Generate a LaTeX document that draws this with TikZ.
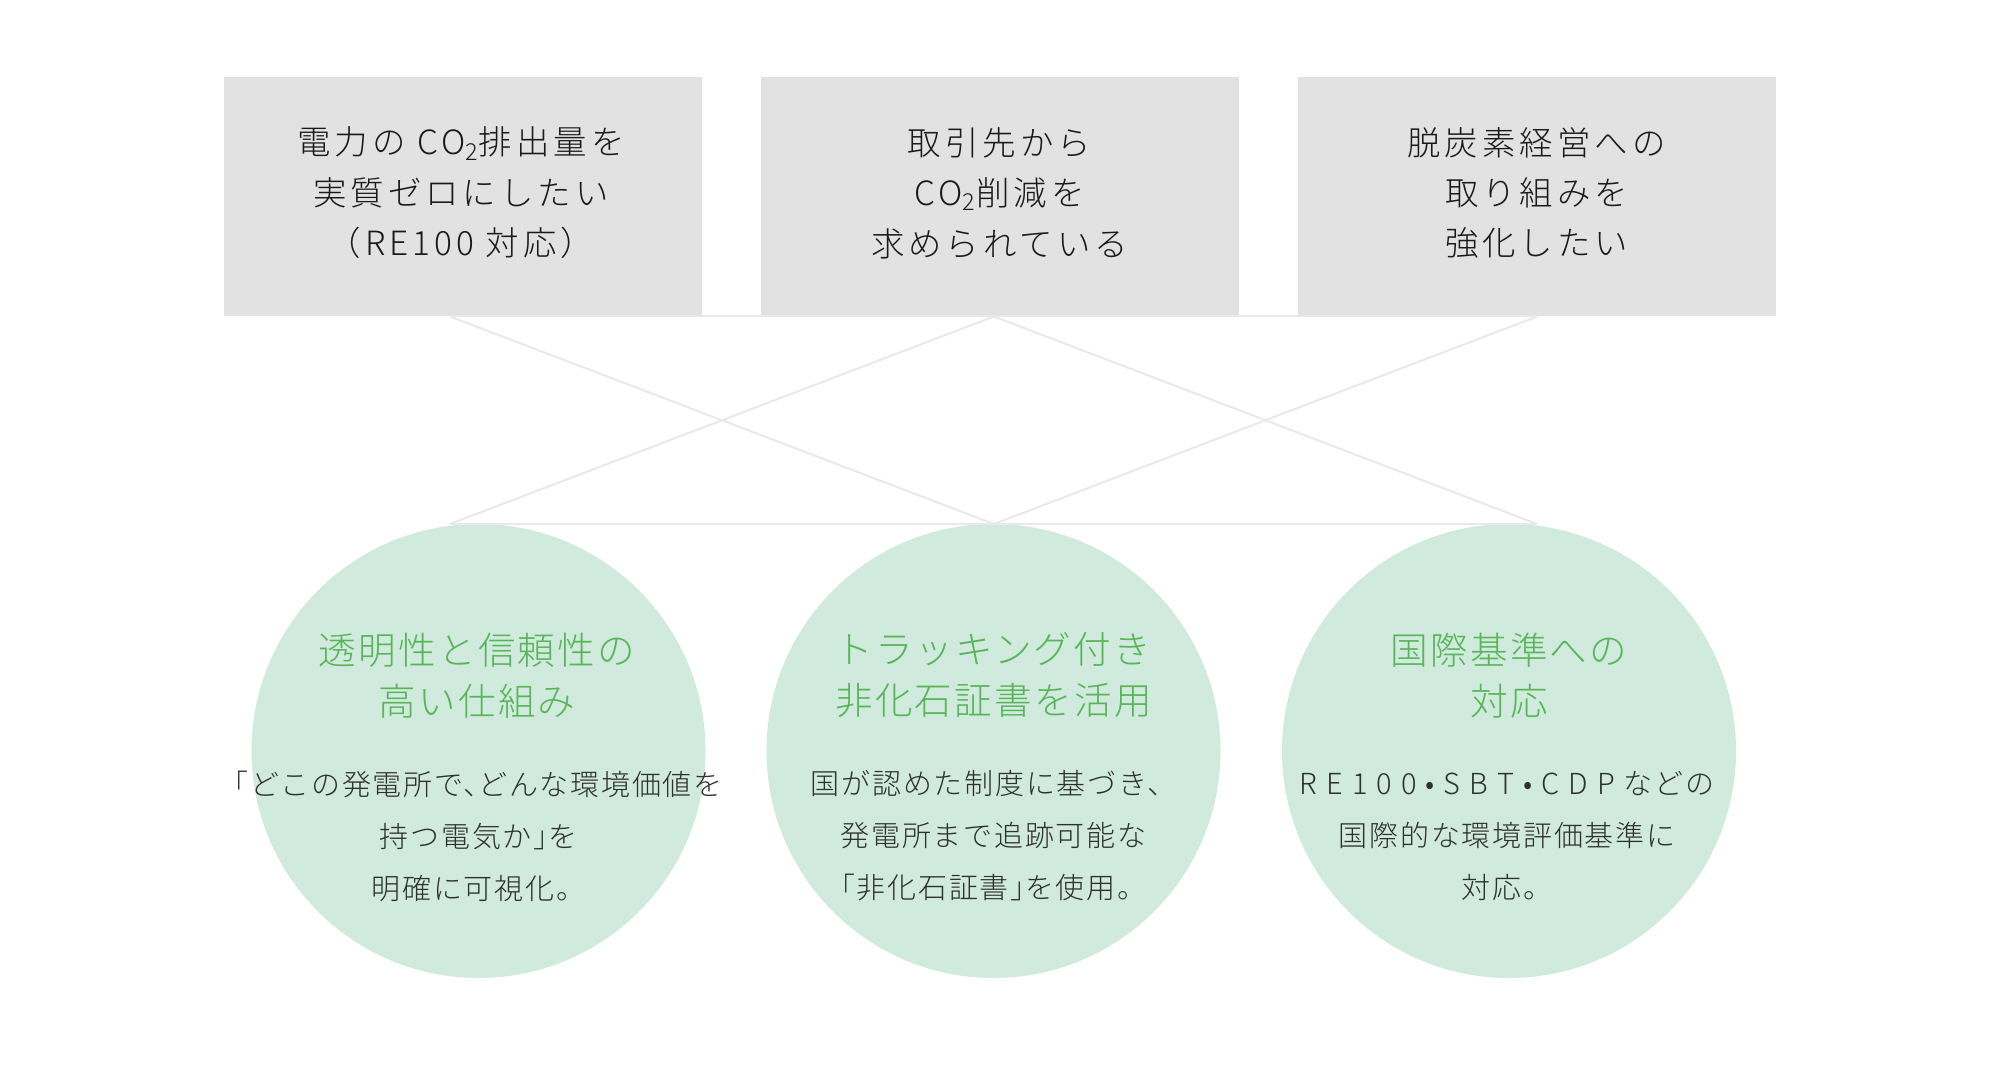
\documentclass[tikz,border=0pt]{standalone}
\usepackage{fontspec}
\setmainfont{Noto Sans CJK JP}
\newfontfamily\jpbox[LetterSpace=12]{Noto Sans CJK JP Light}
\newfontfamily\jptitle[LetterSpace=6]{Noto Sans CJK JP Light}
\newfontfamily\jpbody[LetterSpace=6]{Noto Sans CJK JP Light}
\definecolor{boxgray}{HTML}{E2E2E2}
\definecolor{circgreen}{HTML}{D0EBDD}
\definecolor{titlegreen}{HTML}{58B558}
\definecolor{linegray}{HTML}{E9E9E9}
\definecolor{boxtext}{HTML}{1A1A1A}
\definecolor{bodytext}{HTML}{303030}
\newcommand\lsp{\hspace{4.5pt}}
\newcommand\hkl{\hspace{-0.5em}}
\tikzset{
  needbox/.style={rectangle, fill=boxgray, draw=none, minimum width=239pt, minimum height=119.5pt, inner sep=0pt},
  needtext/.style={align=center, text=boxtext, font=\jpbox\fontsize{16.7}{25.2}\selectfont, inner sep=0pt},
  solcirc/.style={circle, fill=circgreen, draw=none, minimum size=227pt, inner sep=0pt},
  soltitle/.style={align=center, text=titlegreen, font=\jptitle\fontsize{18.8}{25.5}\selectfont, inner sep=0pt},
  solbody/.style={align=center, text=bodytext, font=\jpbody\fontsize{14.5}{26}\selectfont, inner sep=0pt},
  link/.style={draw=linegray, line width=1pt}
}
\begin{document}
\begin{tikzpicture}[x=0.5pt,y=-0.5pt]
\useasboundingbox[fill=white] (0,0) rectangle (2000,1079);
% top boxes
\node[needbox] (b1) at (463,196.5) {};
\node[needbox] (b2) at (999.5,196.5) {};
\node[needbox] (b3) at (1536.5,196.5) {};
% circles
\node[solcirc] (c1) at (478.5,751) {};
\node[solcirc] (c2) at (993.5,751) {};
\node[solcirc] (c3) at (1509,751) {};
% connector points
\coordinate (a1) at (450,316.5);
\coordinate (a2) at (994,316.5);
\coordinate (a3) at (1537,316.5);
\coordinate (d1) at (450,524);
\coordinate (d2) at (994,524);
\coordinate (d3) at (1537,524);
\draw[link] (a1) -- (a3);
\draw[link] (d1) -- (d3);
\draw[link] (a1) -- (d2);
\draw[link] (a2) -- (d1);
\draw[link] (a2) -- (d3);
\draw[link] (a3) -- (d2);
% box texts
\node[needtext] (t1) at (461,193) {電力の CO\textsubscript{2}排出量を\\実質ゼロにしたい\\（RE100 対応）};
\node[needtext] (t2) at (999.5,193) {取引先から\\CO\textsubscript{2}削減を\\求められている};
\node[needtext] (t3) at (1536.5,193) {脱炭素経営への\\取り組みを\\強化したい};
% circle titles
\node[soltitle] (h1) at (477,675.5) {透明性と信頼性の\\高い仕組み};
\node[soltitle] (h2) at (993.5,675.5) {トラッキング付き\\非化石証書を活用};
\node[soltitle] (h3) at (1509,675.5) {国際基準への\\対応};
% circle bodies
\node[solbody] (p1) at (478.5,836) {\hkl「どこの発電所で、\hkl どんな環境価値を\\持つ電気か」\hkl を\\明確に可視化。};
\node[solbody] (p2) at (993.5,836) {国が認めた制度に基づき、\\発電所まで追跡可能な\\\hkl「非化石証書」\hkl を使用。};
\node[solbody] (p3) at (1507,836) {R\lsp E\lsp 1\lsp 0\lsp 0\lsp•\lsp S\lsp B\lsp T\lsp•\lsp C\lsp D\lsp P\lsp などの\\国際的な環境評価基準に\\対応。};
\end{tikzpicture}
\end{document}
